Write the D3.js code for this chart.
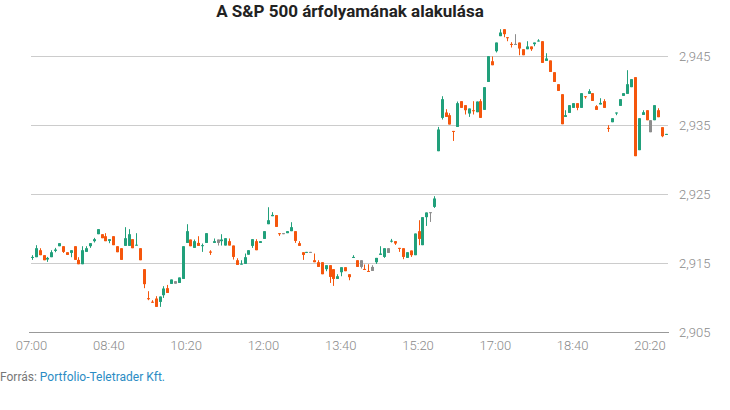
<!DOCTYPE html>
<html>
<head>
<meta charset="utf-8">
<script src="https://cdn.jsdelivr.net/npm/d3@7/dist/d3.min.js"></script>
<style>
  html, body { margin: 0; padding: 0; background: #fff; }
  svg { display: block; }
  text { font-family: Roboto, "Noto Sans", sans-serif; }
</style>
</head>
<body>
<svg id="chart" width="730" height="410"></svg>
<script>
const times = [
 "07:00","07:05","07:10","07:15","07:20","07:25","07:30","07:35","07:40","07:45","07:50","07:55",
 "08:00","08:05","08:10","08:15","08:20","08:25","08:30","08:35","08:40","08:45","08:50","08:55",
 "09:00","09:05","09:10","09:15","09:20","09:25","09:30","09:35","09:40","09:45","09:50","09:55",
 "10:00","10:05","10:10","10:15","10:20","10:25","10:30","10:35","10:40","10:45","10:50","10:55",
 "11:00","11:05","11:10","11:15","11:20","11:25","11:30","11:35","11:40","11:45","11:50","11:55",
 "12:00","12:05","12:10","12:15","12:20","12:25","12:30","12:35","12:40","12:45","12:50","12:55",
 "13:00","13:05","13:10","13:15","13:20","13:25","13:30","13:35","13:40","13:45","13:50","13:55",
 "14:00","14:05","14:10","14:15","14:20","14:25","14:30","14:35","14:40","14:45","14:50","14:55",
 "15:00","15:05","15:10","15:15","15:20","15:25","15:30","15:35","15:40","15:45","15:50","15:55",
 "16:00","16:05","16:10","16:15","16:20","16:25","16:30","16:35","16:40","16:45","16:50","16:55",
 "17:00","17:05","17:10","17:15","17:20","17:25","17:30","17:35","17:40","17:45","17:50","17:55",
 "18:00","18:05","18:10","18:15","18:20","18:25","18:30","18:35","18:40","18:45","18:50","18:55",
 "19:00","19:05","19:10","19:15","19:20","19:25","19:30","19:35","19:40","19:45","19:50","19:55",
 "20:00","20:05","20:10","20:15","20:20","20:25","20:30","20:35","20:40"
];
const open = [
 2915.67,2915.77,2916.78,2916.06,2915.43,2915.77,2916.68,2917.36,2917.36,2916.49,2916.39,2917.36,
 2915.38,2914.75,2916.54,2917.36,2918.09,2919.10,2919.10,2918.81,2918.13,2918.81,2917.36,2917.07,
 2917.41,2917.41,2918.38,2917.46,2917.07,2914.03,2909.83,2909.32,2909.78,2909.29,2910.26,2911.28,
 2911.90,2912.29,2912.04,2912.62,2917.84,2918.33,2917.12,2917.84,2917.41,2917.84,2916.59,2917.84,
 2918.33,2918.09,2917.46,2918.09,2917.46,2915.33,2914.71,2914.80,2916.13,2917.41,2918.09,2917.84,
 2918.42,2920.55,2921.71,2921.86,2919.25,2919.25,2919.25,2919.54,2919.54,2917.80,2916.49,2916.45,
 2916.54,2915.33,2915.04,2915.04,2914.03,2914.61,2914.03,2912.62,2913.59,2914.32,2913.30,2915.67,
 2915.33,2915.33,2914.07,2913.78,2913.78,2915.04,2916.10,2915.81,2917.07,2918.04,2918.09,2917.12,
 2917.07,2915.67,2916.74,2916.06,2919.54,2917.51,2921.57,2922.29,2923.06,2931.13,2935.96,2936.74,
 2936.35,2934.07,2934.65,2938.38,2937.80,2936.59,2937.07,2936.78,2938.38,2937.12,2941.17,2944.17,
 2945.62,2947.80,2948.81,2947.65,2946.68,2946.68,2946.88,2945.91,2945.91,2946.31,2946.64,2947.03,
 2947.07,2944.22,2944.28,2942.58,2940.84,2939.39,2936.10,2936.68,2937.41,2938.09,2937.41,2939.10,
 2939.44,2939.54,2937.65,2937.90,2938.38,2934.51,2935.33,2936.59,2937.70,2939.15,2939.44,2940.41,
 2941.86,2931.28,2936.39,2937.07,2935.62,2935.62,2937.07,2934.61,2933.55
];
const high = [
 2916.06,2917.51,2917.07,2916.06,2915.81,2916.78,2917.12,2917.80,2917.36,2916.49,2916.78,2917.36,
 2915.77,2917.36,2917.36,2917.80,2918.57,2919.83,2919.10,2919.25,2918.38,2918.81,2917.36,2917.07,
 2920.12,2919.83,2918.38,2919.25,2917.07,2914.03,2910.84,2909.54,2910.12,2910.07,2911.57,2911.75,
 2912.54,2912.29,2912.83,2917.36,2920.55,2918.33,2918.33,2918.81,2917.75,2919.25,2916.78,2918.48,
 2918.33,2919.10,2918.52,2918.48,2917.46,2915.62,2915.33,2916.30,2916.78,2918.38,2918.38,2918.09,
 2919.54,2923.01,2922.29,2921.86,2919.25,2919.25,2919.54,2920.84,2919.54,2918.09,2916.49,2916.54,
 2916.54,2916.30,2915.33,2915.04,2914.61,2914.61,2914.03,2913.30,2914.32,2914.32,2913.30,2916.06,
 2915.33,2915.33,2914.71,2914.75,2914.61,2915.67,2917.36,2917.07,2917.07,2918.42,2918.09,2917.12,
 2917.07,2916.49,2916.74,2919.20,2921.13,2921.57,2922.25,2922.29,2924.61,2934.65,2939.10,2937.22,
 2936.64,2934.07,2938.33,2938.38,2937.80,2937.32,2938.38,2938.33,2938.67,2940.41,2944.90,2944.86,
 2946.88,2948.81,2948.81,2947.65,2946.93,2948.09,2946.88,2945.91,2947.07,2946.31,2946.88,2947.36,
 2947.07,2945.33,2944.28,2942.58,2940.84,2939.39,2937.07,2937.80,2938.09,2938.09,2939.54,2939.10,
 2940.12,2939.54,2937.80,2938.81,2938.67,2934.90,2935.91,2936.74,2938.67,2939.54,2942.87,2941.57,
 2941.86,2935.91,2937.07,2937.07,2935.62,2937.80,2937.36,2934.61,2933.64
];
const low = [
 2915.38,2915.77,2916.06,2915.33,2915.09,2915.77,2916.49,2917.36,2916.39,2916.10,2915.77,2915.38,
 2914.75,2914.75,2916.54,2917.12,2917.90,2919.10,2918.52,2918.09,2917.80,2917.51,2916.49,2915.38,
 2917.41,2917.41,2917.07,2917.46,2915.33,2911.28,2909.54,2909.17,2908.57,2908.57,2909.87,2910.59,
 2911.90,2911.93,2912.04,2912.62,2917.84,2917.36,2917.12,2917.41,2916.54,2917.84,2916.10,2917.84,
 2917.46,2917.46,2917.46,2917.46,2915.43,2914.65,2914.71,2914.80,2916.13,2917.12,2916.78,2917.84,
 2918.42,2920.55,2921.71,2920.16,2918.86,2919.15,2919.25,2919.54,2917.84,2917.41,2915.38,2916.45,
 2916.45,2915.04,2914.36,2913.30,2913.74,2912.04,2911.61,2912.62,2913.01,2913.74,2912.43,2915.67,
 2914.36,2914.13,2913.99,2913.70,2913.78,2914.80,2916.10,2915.67,2916.39,2917.90,2917.55,2916.54,
 2915.48,2915.67,2915.81,2916.06,2917.51,2917.51,2920.30,2920.88,2922.91,2931.13,2935.72,2936.10,
 2935.00,2932.62,2934.65,2937.41,2936.45,2936.10,2936.45,2936.78,2935.96,2937.12,2941.17,2943.59,
 2945.44,2947.80,2947.65,2947.07,2946.16,2946.59,2945.04,2945.04,2945.91,2945.67,2946.35,2947.03,
 2943.93,2944.22,2942.62,2941.17,2939.87,2935.04,2936.10,2936.68,2937.41,2937.07,2937.41,2938.74,
 2939.44,2938.42,2937.12,2937.90,2937.41,2933.93,2935.33,2936.35,2937.70,2939.15,2939.44,2940.41,
 2930.41,2931.28,2936.39,2935.62,2933.88,2935.62,2936.06,2933.16,2933.55
];
const close = [
 2915.81,2917.07,2916.06,2915.33,2915.67,2916.49,2916.88,2917.80,2916.54,2916.10,2916.78,2915.38,
 2914.75,2916.78,2917.07,2917.80,2918.38,2919.83,2918.52,2918.09,2918.38,2917.51,2916.49,2915.38,
 2918.52,2919.10,2917.07,2917.58,2915.33,2911.86,2909.68,2909.17,2908.57,2910.07,2911.23,2910.59,
 2912.54,2911.93,2912.83,2917.36,2919.54,2917.36,2918.09,2917.41,2917.51,2919.25,2916.42,2918.09,
 2917.84,2918.33,2918.52,2917.46,2915.81,2914.65,2914.83,2915.77,2916.78,2918.38,2916.78,2918.09,
 2919.54,2921.13,2921.90,2920.16,2919.10,2919.15,2919.54,2920.12,2918.13,2917.41,2916.10,2916.54,
 2916.45,2915.04,2914.36,2913.30,2914.61,2912.91,2912.62,2913.01,2914.32,2913.74,2912.87,2915.81,
 2914.36,2914.36,2913.99,2913.70,2914.36,2915.67,2916.30,2917.07,2916.39,2918.16,2917.75,2917.03,
 2915.81,2916.49,2916.06,2919.20,2918.42,2921.57,2922.25,2922.19,2924.28,2934.28,2938.67,2936.10,
 2935.00,2933.99,2938.09,2937.41,2937.07,2937.32,2936.97,2938.33,2935.96,2940.41,2944.90,2943.59,
 2946.88,2948.33,2948.09,2947.55,2946.59,2946.59,2946.01,2945.04,2946.31,2945.91,2946.88,2947.17,
 2943.93,2944.57,2942.62,2941.17,2939.87,2935.04,2936.35,2937.80,2938.09,2937.41,2939.54,2938.96,
 2939.83,2938.42,2937.12,2938.13,2937.41,2934.42,2935.91,2936.74,2938.67,2939.54,2940.84,2941.57,
 2930.41,2935.91,2936.78,2935.62,2933.88,2937.80,2936.06,2933.30,2933.64
];
// candles drawn in neutral grey in the original
const neutralTimes = ["10:05","11:00","12:25","13:00","14:05","14:20","14:40","15:35","17:25","20:20"];

const xTickLabels = ["07:00","08:40","10:20","12:00","13:40","15:20","17:00","18:40","20:20"];
const yTickValues = [2905, 2915, 2925, 2935, 2945];

const title = "A S&P 500 árfolyamának alakulása";
const sourceLabel = "Forrás: ";
const sourceName = "Portfolio-Teletrader Kft.";

(function draw() {
  const COLORS = { up: "#21a07b", down: "#f5560c", flat: "#8c8c8c" };

  const parse = d3.timeParse("%H:%M");
  const fmt = d3.timeFormat("%H:%M");
  const data = times.map((t, i) => ({
    t: parse(t), key: t,
    o: open[i], h: high[i], l: low[i], c: close[i]
  }));

  const svg = d3.select("#chart");
  const plotL = 31, plotR = 668, plotT = 21, plotB = 331.5;

  const x = d3.scaleTime().domain([parse("07:00"), parse("20:44")]).range([plotL, plotR]);
  const y = d3.scaleLinear().domain([2905, 2950]).range([plotB, plotT]);

  // gridlines
  svg.append("g").selectAll("line")
    .data(yTickValues.filter(v => v !== 2905))
    .join("line")
    .attr("x1", plotL).attr("x2", plotR)
    .attr("y1", d => Math.round(y(d)) + 0.5).attr("y2", d => Math.round(y(d)) + 0.5)
    .attr("stroke", "#cccccc").attr("stroke-width", 1);

  // baseline
  svg.append("line")
    .attr("x1", plotL - 2).attr("x2", plotR + 1)
    .attr("y1", Math.round(y(2905)) + 0.5).attr("y2", Math.round(y(2905)) + 0.5)
    .attr("stroke", "#999999").attr("stroke-width", 1);

  // y axis labels
  const yAxis = d3.axisRight(y).tickValues(yTickValues).tickFormat(d3.format(",")).tickSize(0).tickPadding(11);
  const gy = svg.append("g").attr("transform", `translate(${plotR},0.5)`).call(yAxis);
  gy.select(".domain").remove();
  gy.selectAll("text").attr("fill", "#8a8a8a").style("font-size", "13px").style("font-weight", 300).style("font-family", "Roboto, sans-serif");

  // x axis labels
  const xAxis = d3.axisBottom(x).tickValues(xTickLabels.map(parse)).tickFormat(fmt).tickSize(0).tickPadding(9);
  const gx = svg.append("g").attr("transform", `translate(0,${plotB})`).call(xAxis);
  gx.select(".domain").remove();
  gx.selectAll("text").attr("fill", "#8a8a8a").style("font-size", "13px").style("font-weight", 300).style("font-family", "Roboto, sans-serif");

  // candles
  const colorOf = d => neutralTimes.includes(d.key) ? COLORS.flat : (d.c >= d.o ? COLORS.up : COLORS.down);
  const g = svg.append("g");
  const cx = d => Math.round(x(d.t));
  g.selectAll("rect.wick").data(data).join("rect")
    .attr("class", "wick")
    .attr("x", d => cx(d) + 1)
    .attr("width", 1)
    .attr("y", d => y(d.h))
    .attr("height", d => Math.max(1, y(d.l) - y(d.h)))
    .attr("fill", colorOf);
  g.selectAll("rect.body").data(data).join("rect")
    .attr("class", "body")
    .attr("x", d => cx(d))
    .attr("width", 3)
    .attr("y", d => y(Math.max(d.o, d.c)))
    .attr("height", d => Math.max(1, Math.abs(y(d.o) - y(d.c))))
    .attr("fill", colorOf);

  // title
  svg.append("text")
    .attr("x", 350).attr("y", 17)
    .attr("text-anchor", "middle")
    .style("font-size", "17px").style("font-weight", 700).attr("fill", "#222")
    .text(title);

  // source
  const src = svg.append("text").attr("x", 0).attr("y", 381).style("font-size", "12px");
  src.append("tspan").attr("fill", "#777").text(sourceLabel);
  src.append("tspan").attr("fill", "#2b8cc4").text(sourceName);
})();
</script>
</body>
</html>
